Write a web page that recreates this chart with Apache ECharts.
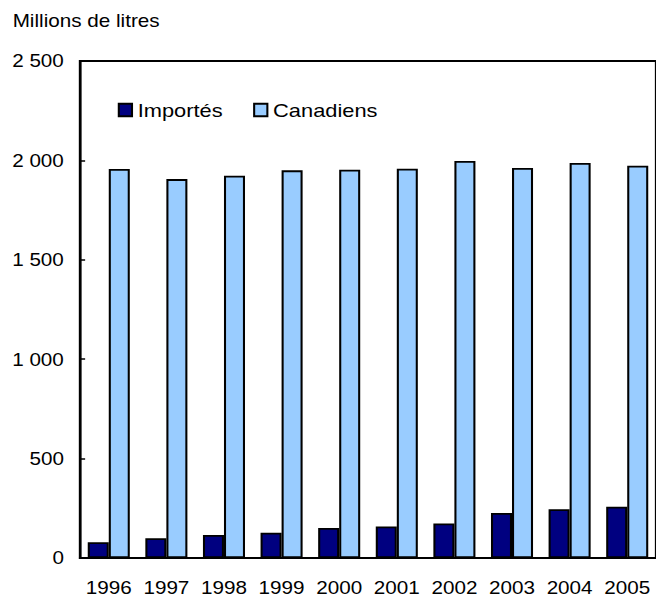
<!DOCTYPE html>
<html>
<head>
<meta charset="utf-8">
<script src="https://cdn.jsdelivr.net/npm/echarts@6/dist/echarts.min.js"></script>
<style>
html,body{margin:0;padding:0;background:#fff;overflow:hidden;}
#chart{width:571px;height:600px;transform:scaleX(1.1489);transform-origin:0 0;}
</style>
</head>
<body>
<div id="chart"></div>
<script>
var categories = ['1996','1997','1998','1999','2000','2001','2002','2003','2004','2005'];
var importes = [79, 99, 116, 127, 151, 159, 174, 226, 245, 258];
var canadiens = [1957, 1906, 1923, 1950, 1953, 1958, 1997, 1962, 1987, 1973];
var seriesNames = ['Importés', 'Canadiens'];
var yTicks = [0, 500, 1000, 1500, 2000, 2500];

var chart = echarts.init(document.getElementById('chart'), null, {renderer: 'svg'});
var font = 'Liberation Sans, Arial, sans-serif';
function fmt(v){ return String(v).replace(/\B(?=(\d{3})+(?!\d))/g, ' '); }
chart.setOption({
  animation: false,
  backgroundColor: '#fff',
  textStyle: {fontFamily: font},
  title: {
    text: 'Millions de litres', left: 11, top: 11, padding: 0,
    textStyle: {fontFamily: font, fontSize: 18, fontWeight: 'normal', color: '#000'}
  },
  legend: {
    data: seriesNames, left: 102.5, top: 100.5, padding: 0,
    itemWidth: 11.5, itemHeight: 12.5, itemGap: 26.5,
    icon: 'rect',
    textStyle: {fontFamily: font, fontSize: 19, color: '#000'},
    itemStyle: {borderColor: '#000', borderWidth: 1.8}
  },
  grid: {left: 69.6, right: -4.3, top: 61, bottom: 42, show: true, borderColor: '#000', borderWidth: 2},
  xAxis: {
    type: 'category', data: categories,
    axisLine: {show: true, lineStyle: {color: '#000', width: 2}},
    axisTick: {show: false},
    axisLabel: {color: '#000', fontFamily: font, fontSize: 18, margin: 20, interval: 0}
  },
  yAxis: {
    type: 'value', min: yTicks[0], max: yTicks[yTicks.length-1], interval: 500,
    axisLine: {show: true, lineStyle: {color: '#000', width: 2}},
    axisTick: {show: true, inside: true, length: 4.5, lineStyle: {color: '#000', width: 1.5}},
    splitLine: {show: false},
    axisLabel: {color: '#000', fontFamily: font, fontSize: 18, margin: 14, formatter: fmt}
  },
  series: [
    {name: seriesNames[0], type: 'bar', data: importes, barGap: '0%', barCategoryGap: '27%',
     itemStyle: {color: '#000080', borderColor: '#000', borderWidth: 1.8}},
    {name: seriesNames[1], type: 'bar', data: canadiens, barGap: '0%', barCategoryGap: '27%',
     itemStyle: {color: '#99CCFF', borderColor: '#000', borderWidth: 1.8}}
  ]
});
</script>
</body>
</html>
